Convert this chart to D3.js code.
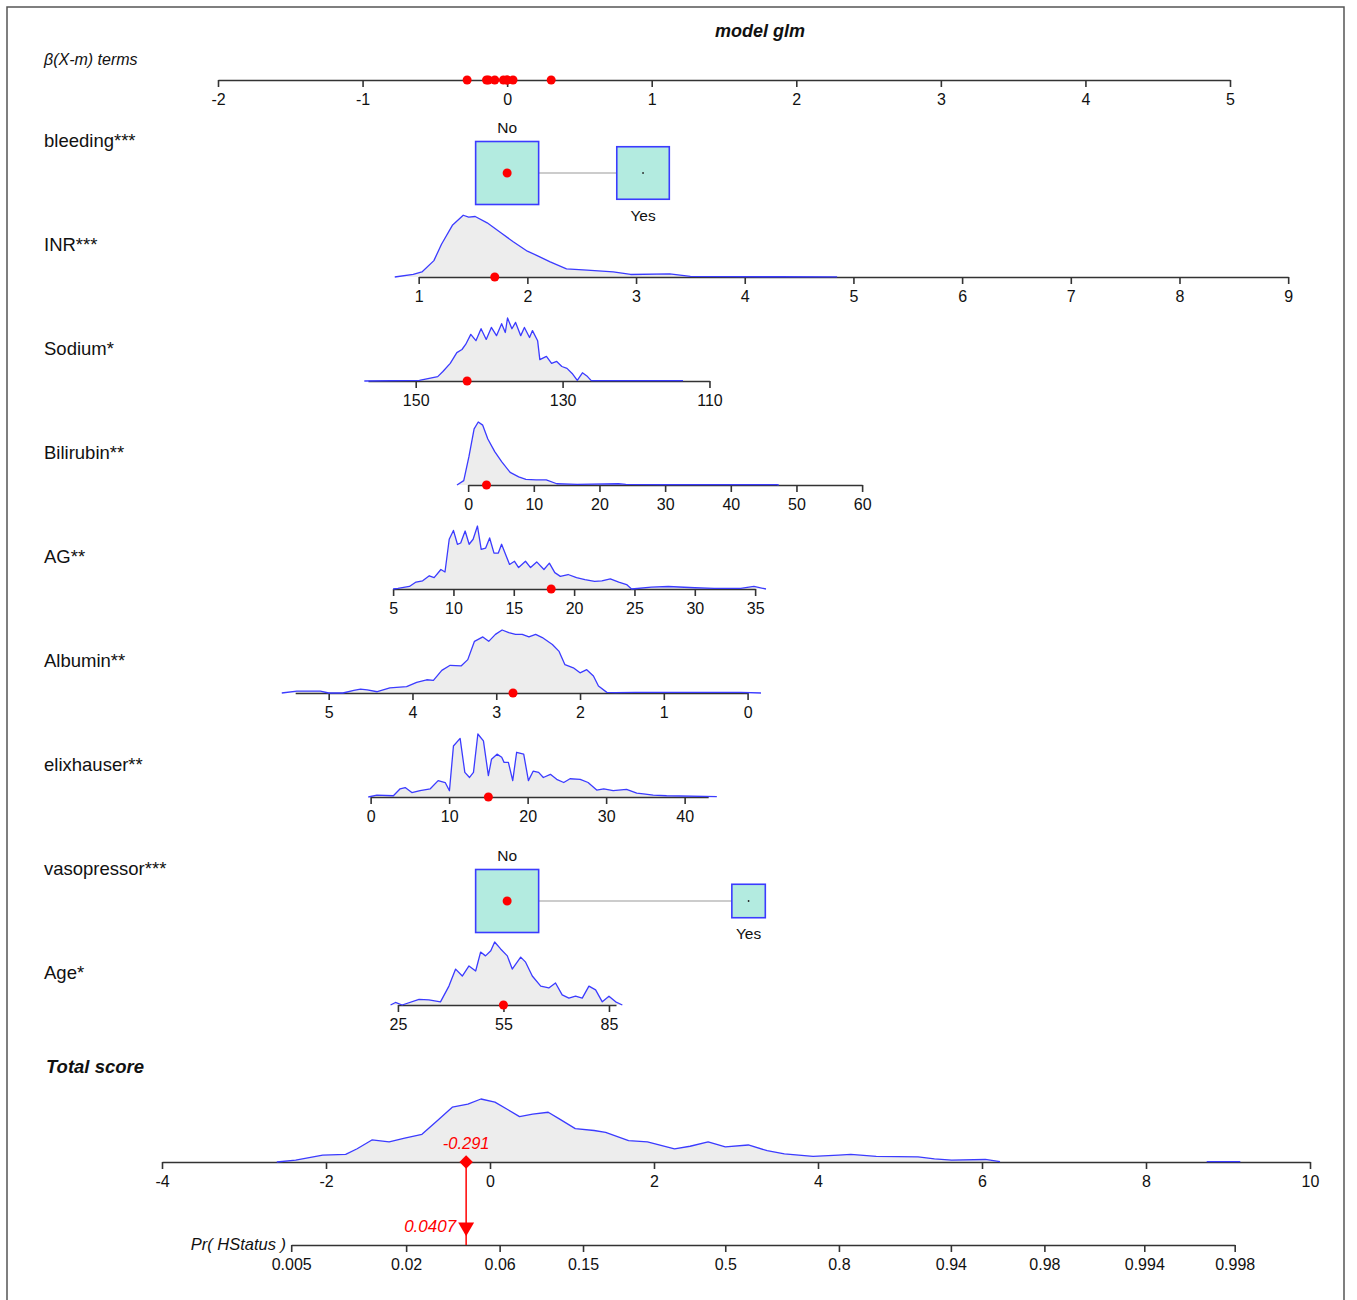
<!DOCTYPE html>
<html><head><meta charset="utf-8">
<script src="https://cdn.jsdelivr.net/npm/d3@7"></script>
<style>
body{margin:0;background:#fff}
svg{display:block}
text{font-family:"Liberation Sans", Arial, sans-serif}
</style>
</head><body>
<svg id="chart" width="1357" height="1300"></svg>
<script>
// ---------------- DATA ----------------
const chartTitle = "model glm";
const betaLabel = "β(X-m) terms";
const betaTicks = [-2, -1, 0, 1, 2, 3, 4, 5];

// categorical variables
const bleedingLevels = ["No", "Yes"];
const bleedingBeta = [0, 0.94];
const bleedingShare = [0.59, 0.41];
const bleedingPatient = "No";

const vasoLevels = ["No", "Yes"];
const vasoBeta = [0, 1.67];
const vasoShare = [0.78, 0.22];
const vasoPatient = "No";

// INR
const inrTicks = [1, 2, 3, 4, 5, 6, 7, 8, 9];
const inrAxis = [1, 9];
const inrModel = [0.7518, 1.814];       // coef, centre
const inrPatient = 1.7;
const inrDensX = [0.78,0.95,1.03,1.14,1.21,1.31,1.41,1.46,1.52,1.63,1.75,1.87,2.0,2.09,2.21,2.36,2.55,2.79,2.95,3.31,3.5,3.9,4.3,4.85];
const inrDensY = [0,4,8,26,52,82,98,95,96,86,71,56,41,34,24,13,11,8,4,5,1,0.5,0.4,0.3];

// Sodium
const sodiumTicks = [150, 130, 110];
const sodiumAxis = [156.5, 110];
const sodiumModel = [-0.0508, 137.55];
const sodiumPatient = 143;
const sodiumDensX = [157.0,149.5,147.0,146.3,145.3,144.4,143.7,143.2,142.5,141.8,141.1,140.4,139.7,139.0,138.3,137.8,137.5,136.9,136.4,135.7,135.2,134.5,134.1,133.4,133.1,132.2,131.5,130.8,130.1,129.4,128.7,128.0,127.3,126.6,126.1,113.6];
const sodiumDensY = [0,1,7,15,28,45,50,58,74,64,83,66,85,72,91,77,100,83,93,72,85,69,80,64,34,39,28,31,23,20,12,1,13,7,0.5,0.5];

// Bilirubin
const biliTicks = [0, 10, 20, 30, 40, 50, 60];
const biliAxis = [0, 60];
const biliModel = [0.04542, 5.94];
const biliPatient = 2.8;
const biliDensX = [-1.7,-0.67,0.12,0.91,1.54,2.22,3.0,4.05,5.1,6.4,7.7,8.8,10.35,11.9,13.5,16.6,22.9,24,29.2,47,47.3];
const biliDensY = [0,7,45,89,100,95,73,53,37,20,13,9,8,8,2,1,2,1,0.5,0.5,0];

// AG
const agTicks = [5, 10, 15, 20, 25, 30, 35];
const agAxis = [5, 35];
const agModel = [0.08347, 14.45];
const agPatient = 18.1;
const agDensX = [5.0,5.4,6.35,6.9,7.45,8.0,8.4,8.96,9.3,9.65,10.0,10.33,10.6,10.97,11.3,11.63,11.99,12.3,12.67,13.0,13.36,13.72,13.99,14.38,14.65,15.06,15.4,15.97,16.39,16.9,17.5,17.95,18.4,18.86,19.5,20.2,20.9,21.7,22.3,23.0,23.7,24.35,24.76,26.4,27.8,30.0,31.6,33.8,34.9,35.9];
const agDensY = [0,1,4,11,13,21,18,31,27,79,93,71,73,92,71,79,100,63,65,81,57,57,71,52,39,44,34,44,34,43,31,41,26,20,23,18,15,12,13,16,11,7,0,3,4,2,1,1,4,0];

// Albumin
const albTicks = [5, 4, 3, 2, 1, 0];
const albAxis = [5.4, 0];
const albModel = [-0.5795, 2.87];
const albPatient = 2.8;
const albDensX = [5.56,5.38,5.1,5.0,4.83,4.70,4.62,4.54,4.42,4.27,4.07,3.95,3.83,3.75,3.65,3.55,3.42,3.34,3.26,3.16,3.09,3.01,2.93,2.85,2.77,2.69,2.61,2.53,2.45,2.33,2.25,2.18,2.08,2.0,1.92,1.84,1.78,1.68,1.58,1.34,0.08,-0.16];
const albDensY = [0,3,3,0,0,4,6,5,2,8,10,17,21,20,36,44,43,53,82,89,82,93,100,96,93,93,89,93,88,77,66,45,40,32,37,27,11,1,0.5,1,1,0];

// elixhauser
const elixTicks = [0, 10, 20, 30, 40];
const elixAxis = [0, 43];
const elixModel = [0.0543, 17.39];
const elixPatient = 15;
const elixDensX = [-0.3,0.8,2.9,3.76,4.4,5.25,6.3,7.6,8.6,9.5,10.04,10.55,11.4,12.0,12.6,13.1,13.66,14.37,15.0,15.4,16.1,16.7,17.0,17.55,18.1,18.6,19.5,20.1,20.7,21.4,22.0,22.9,23.7,24.6,25.4,26.7,27.7,28.8,29.7,30.9,32.6,33.9,34.75,36.0,37.7,44.1];
const elixDensY = [0,3,2,13,15,7,10,13,26,23,10,81,93,39,31,39,100,89,34,60,68,63,55,55,26,71,68,26,41,39,31,36,28,23,29,28,23,11,13,10,12,6,5,3,2,0.5];

// Age
const ageTicks = [25, 55, 85];
const ageAxis = [25, 87];
const ageModel = [0.02433, 56.05];
const agePatient = 55;
const ageDensX = [22.9,24.3,26.2,31.0,33.8,37.1,39.5,41.4,43.3,45.2,47.1,48.5,49.9,51.4,52.5,54.2,56.1,57.5,59.9,61.3,63.2,65.6,67.9,69.8,71.7,73.6,75.5,77.4,79.3,81.2,83.1,85.0,86.9,88.8];
const ageDensY = [0,4,0,9,8,5,30,57,46,62,54,84,78,86,100,89,78,57,76,68,46,30,27,35,16,11,14,11,30,24,5,14,5,0];

// Total score
const totalTicks = [-4, -2, 0, 2, 4, 6, 8, 10];
const totalDensX = [-2.6,-2.37,-2.04,-1.76,-1.62,-1.44,-1.23,-1.04,-0.83,-0.64,-0.46,-0.27,-0.11,0.06,0.22,0.36,0.52,0.71,0.85,1.04,1.27,1.41,1.69,1.92,2.25,2.44,2.66,2.87,3.15,3.38,3.59,3.94,4.25,4.40,4.71,5.22,5.42,5.63,6.04,6.22];
const totalDensY = [0,3,11,12,21,35,32,38,44,66,87,92,100,95,83,72,76,79,68,53,50,47,34,32,21,25,32,24,27,18,13,9,11,12,9,8,5,3,4,0.5];
const totalTailX = [8.74, 9.15];
const totalTailY = [0.5, 0.5];
const totalPatient = -0.291;

// Probability
const probLabel = "Pr( HStatus )";
const probTicks = [0.005, 0.02, 0.06, 0.15, 0.5, 0.8, 0.94, 0.98, 0.994, 0.998];
const probIntercept = -2.869;
const probPatient = 0.0407;

// ---------------- LAYOUT ----------------
const svg = d3.select("#chart");
const red = "#ff0000", blue = "#3b3bff", axisCol = "#333", textCol = "#111";
const boxFill = "#b3ebe0", densFill = "#ededed";
const rowY = i => 141 + 104 * i;
const axisOff = 32;
const densHeight = 63;
const hScale = d3.scaleLinear().domain([0, 100]).range([0, -densHeight]);
const tickFont = "16px";

// frame
svg.append("rect").attr("x", 7).attr("y", 7).attr("width", 1337).attr("height", 1310)
  .attr("fill", "none").attr("stroke", "#555").attr("stroke-width", 1.5);

// title
svg.append("text").attr("x", 760).attr("y", 31).attr("dy", "0.35em").attr("text-anchor", "middle")
  .style("font-weight", "bold").style("font-style", "italic").style("font-size", "18px")
  .attr("fill", "#111").text(chartTitle);
svg.append("text").attr("x", 44).attr("y", 59).attr("dy", "0.35em")
  .style("font-style", "italic").style("font-size", "16px").attr("fill", textCol).text(betaLabel);

function styleAxis(g) {
  g.select(".domain").attr("stroke", axisCol).attr("stroke-width", 1.6);
  g.selectAll(".tick line").attr("stroke", axisCol).attr("stroke-width", 1.6);
  g.selectAll(".tick text").attr("fill", textCol).style("font-size", tickFont)
    .style("font-family", '"Liberation Sans", Arial, sans-serif');
}

// beta axis
const xB = d3.scaleLinear().domain([-2, 5]).range([218, 1230]);
const topAxisY = 80;
const gTop = svg.append("g").attr("transform", `translate(0,${topAxisY})`)
  .call(d3.axisBottom(xB).tickValues(betaTicks).tickSize(7).tickSizeOuter(0).tickPadding(7).tickFormat(d => String(d)));
styleAxis(gTop);

// continuous variables
const contVars = [
  {label: "INR***", row: 1, ticks: inrTicks, ext: inrAxis, model: inrModel, pt: inrPatient, dx: inrDensX, dy: inrDensY},
  {label: "Sodium*", row: 2, ticks: sodiumTicks, ext: sodiumAxis, model: sodiumModel, pt: sodiumPatient, dx: sodiumDensX, dy: sodiumDensY},
  {label: "Bilirubin**", row: 3, ticks: biliTicks, ext: biliAxis, model: biliModel, pt: biliPatient, dx: biliDensX, dy: biliDensY},
  {label: "AG**", row: 4, ticks: agTicks, ext: agAxis, model: agModel, pt: agPatient, dx: agDensX, dy: agDensY},
  {label: "Albumin**", row: 5, ticks: albTicks, ext: albAxis, model: albModel, pt: albPatient, dx: albDensX, dy: albDensY},
  {label: "elixhauser**", row: 6, ticks: elixTicks, ext: elixAxis, model: elixModel, pt: elixPatient, dx: elixDensX, dy: elixDensY},
  {label: "Age*", row: 8, ticks: ageTicks, ext: ageAxis, model: ageModel, pt: agePatient, dx: ageDensX, dy: ageDensY}
];
const catVars = [
  {label: "bleeding***", row: 0, levels: bleedingLevels, beta: bleedingBeta, share: bleedingShare, pt: bleedingPatient},
  {label: "vasopressor***", row: 7, levels: vasoLevels, beta: vasoBeta, share: vasoShare, pt: vasoPatient}
];

const patientBetas = [];

function rowLabel(text, row) {
  svg.append("text").attr("x", 44).attr("y", rowY(row)).attr("dy", "0.35em")
    .style("font-size", "18.5px").attr("fill", textCol).text(text);
}

function drawDensity(g, xs, ys, sx) {
  const pts = xs.map((x, i) => [x, ys[i]]);
  const area = d3.area().x(d => sx(d[0])).y0(0).y1(d => hScale(d[1]));
  const line = d3.line().x(d => sx(d[0])).y(d => hScale(d[1]));
  g.append("path").attr("d", area(pts)).attr("fill", densFill);
  return () => g.append("path").attr("d", line(pts)).attr("fill", "none")
    .attr("stroke", blue).attr("stroke-width", 1.3).attr("stroke-linejoin", "round");
}

contVars.forEach(v => {
  rowLabel(v.label, v.row);
  const [coef, centre] = v.model;
  const betaOf = x => coef * (x - centre);
  const sx = d3.scaleLinear().domain(v.ext).range(v.ext.map(e => xB(betaOf(e))));
  const y = rowY(v.row) + axisOff;
  const g = svg.append("g").attr("transform", `translate(0,${y})`);
  const strokeLine = drawDensity(g, v.dx, v.dy, sx);
  const ga = g.append("g").call(d3.axisBottom(sx).tickValues(v.ticks).tickSize(7).tickSizeOuter(0).tickPadding(7).tickFormat(d => String(d)));
  styleAxis(ga);
  strokeLine();
  g.append("circle").attr("cx", sx(v.pt)).attr("cy", 0).attr("r", 4.5).attr("fill", red);
  patientBetas.push(betaOf(v.pt));
});

catVars.forEach(v => {
  rowLabel(v.label, v.row);
  const y = rowY(v.row) + axisOff;
  const maxShare = d3.max(v.share);
  const side = d3.scaleSqrt().domain([0, maxShare]).range([0, 63]);
  const g = svg.append("g").attr("transform", `translate(0,${y})`);
  g.append("line").attr("x1", xB(v.beta[0])).attr("x2", xB(v.beta[v.beta.length - 1]))
    .attr("y1", 0).attr("y2", 0).attr("stroke", "#cccccc").attr("stroke-width", 2);
  v.levels.forEach((lev, i) => {
    const s = side(v.share[i]);
    const cx = xB(v.beta[i]);
    g.append("rect").attr("x", cx - s / 2).attr("y", -s / 2).attr("width", s).attr("height", s)
      .attr("fill", boxFill).attr("stroke", blue).attr("stroke-width", 1.6);
    const above = i % 2 === 0;
    g.append("text").attr("x", cx).attr("y", above ? -s / 2 - 14 : s / 2 + 16).attr("dy", "0.35em")
      .attr("text-anchor", "middle").style("font-size", "15.5px").attr("fill", textCol).text(lev);
    if (lev === v.pt) {
      g.append("circle").attr("cx", cx).attr("cy", 0).attr("r", 4.5).attr("fill", red);
      patientBetas.push(v.beta[i]);
    } else {
      g.append("circle").attr("cx", cx).attr("cy", 0).attr("r", 0.9).attr("fill", "#222");
    }
  });
});

// patient dots on beta axis
svg.append("g").selectAll("circle").data(patientBetas).join("circle")
  .attr("cx", d => xB(d)).attr("cy", topAxisY).attr("r", 4.5).attr("fill", red);

// Total score
svg.append("text").attr("x", 46).attr("y", 1067).attr("dy", "0.35em")
  .style("font-weight", "bold").style("font-style", "italic").style("font-size", "18.5px")
  .attr("fill", "#111").text("Total score");

const totalY = 1162, probY = 1245;
const xT = d3.scaleLinear().domain([-4, 10]).range([162, 1310]);
const gT = svg.append("g").attr("transform", `translate(0,${totalY})`);
const strokeTotal = drawDensity(gT, totalDensX, totalDensY, xT);
const gTa = gT.append("g").call(d3.axisBottom(xT).tickValues(totalTicks).tickSize(7).tickSizeOuter(0).tickPadding(7).tickFormat(d => String(d)));
styleAxis(gTa);
strokeTotal();
const strokeTail = drawDensity(gT, totalTailX, totalTailY, xT);
strokeTail();

// probability axis (logit positions)
const logit = p => Math.log(p / (1 - p));
const xL = d3.scaleLinear().domain([-4 + probIntercept, 10 + probIntercept]).range([162, 1310]);
const pLo = logit(probTicks[0]), pHi = logit(probTicks[probTicks.length - 1]);
const xP = d3.scaleLinear().domain([pLo, pHi]).range([xL(pLo), xL(pHi)]);
const gP = svg.append("g").attr("transform", `translate(0,${probY})`)
  .call(d3.axisBottom(xP).tickValues(probTicks.map(logit)).tickSize(7).tickSizeOuter(0).tickPadding(7)
    .tickFormat((d, i) => String(probTicks[i])));
styleAxis(gP);
svg.append("text").attr("x", 286).attr("y", probY - 1).attr("dy", "0.35em").attr("text-anchor", "end")
  .style("font-style", "italic").style("font-size", "16.5px").attr("fill", textCol).text(probLabel);

// patient marker chain
const px = xT(totalPatient);
svg.append("line").attr("x1", px).attr("x2", px).attr("y1", totalY).attr("y2", probY)
  .attr("stroke", red).attr("stroke-width", 1.5);
svg.append("path").attr("d", d3.symbol(d3.symbolSquare, 90)())
  .attr("transform", `translate(${px},${totalY}) rotate(45)`).attr("fill", red);
svg.append("path").attr("d", d3.symbol(d3.symbolTriangle, 110)())
  .attr("transform", `translate(${xL(logit(probPatient))},${probY - 18}) rotate(180)`).attr("fill", red);
svg.append("text").attr("x", px).attr("y", totalY - 19).attr("dy", "0.35em").attr("text-anchor", "middle")
  .style("font-style", "italic").style("font-size", "16.5px").attr("fill", red).text(String(totalPatient));
svg.append("text").attr("x", px - 10).attr("y", probY - 19).attr("dy", "0.35em").attr("text-anchor", "end")
  .style("font-style", "italic").style("font-size", "17px").attr("fill", red).text(String(probPatient));
</script>
</body></html>
